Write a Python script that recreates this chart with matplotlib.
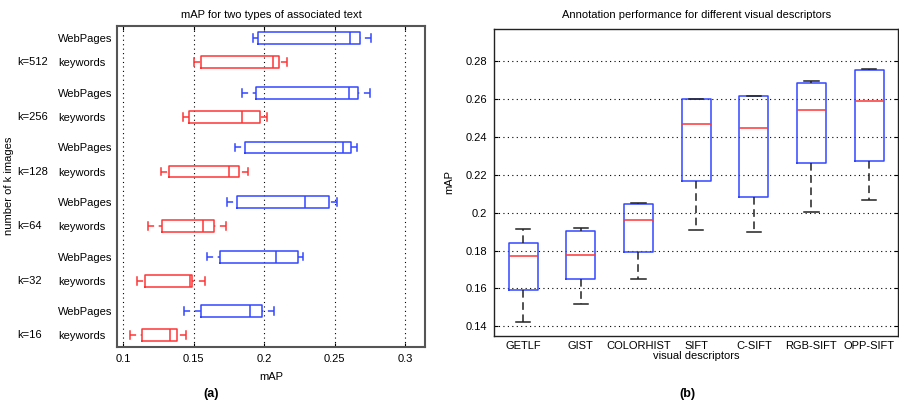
import matplotlib
matplotlib.use('Agg')
import matplotlib.pyplot as plt
from matplotlib.transforms import blended_transform_factory

plt.rcParams['font.family'] = ['Liberation Sans', 'DejaVu Sans']
plt.rcParams['font.size'] = 8

# ---- (a) mAP for two types of associated text, k = 16 ... 512 (bottom to top)
k_labels = ['k=16', 'k=32', 'k=64', 'k=128', 'k=256', 'k=512']

kw_lo = [0.1050, 0.1095, 0.1173, 0.1270, 0.1423, 0.1499]
kw_q1 = [0.1130, 0.1152, 0.1272, 0.1324, 0.1464, 0.1549]
kw_med = [0.1331, 0.1471, 0.1567, 0.1752, 0.1844, 0.2060]
kw_q3 = [0.1383, 0.1489, 0.1643, 0.1823, 0.1970, 0.2106]
kw_hi = [0.1442, 0.1577, 0.1726, 0.1887, 0.2021, 0.2159]

wp_lo = [0.1430, 0.1591, 0.1738, 0.1794, 0.1844, 0.1918]
wp_q1 = [0.1549, 0.1688, 0.1804, 0.1863, 0.1941, 0.1953]
wp_med = [0.1901, 0.2083, 0.2291, 0.2556, 0.2601, 0.2606]
wp_q3 = [0.1984, 0.2241, 0.2457, 0.2615, 0.2667, 0.2681]
wp_hi = [0.2069, 0.2274, 0.2513, 0.2655, 0.2752, 0.2757]

# ---- (b) annotation performance per visual descriptor
descriptors = ['GETLF', 'GIST', 'COLORHIST', 'SIFT', 'C-SIFT', 'RGB-SIFT', 'OPP-SIFT']
d_lo = [0.1424, 0.1518, 0.1648, 0.1910, 0.1899, 0.2003, 0.2068]
d_q1 = [0.1593, 0.1651, 0.1790, 0.2167, 0.2084, 0.2262, 0.2272]
d_med = [0.1771, 0.1776, 0.1963, 0.2466, 0.2450, 0.2545, 0.2591]
d_q3 = [0.1841, 0.1901, 0.2047, 0.2598, 0.2614, 0.2684, 0.2752]
d_hi = [0.1915, 0.1920, 0.2052, 0.2603, 0.2619, 0.2698, 0.2758]

BLUE = '#3346ff'
RED = '#ff3535'


def make_stats(lo, q1, med, q3, hi):
    return [dict(whislo=a, q1=b, med=c, q3=d, whishi=e, fliers=[])
            for a, b, c, d, e in zip(lo, q1, med, q3, hi)]


fig = plt.figure(figsize=(8.99, 4.05), dpi=100)

# ---------------- left chart
ax1 = fig.add_axes([0.1301, 0.1432, 0.3426, 0.7926])
kw_pos = [2 * i + 1 for i in range(6)]
wp_pos = [p + 0.88 for p in kw_pos]

for stats, pos, col in [(make_stats(kw_lo, kw_q1, kw_med, kw_q3, kw_hi), kw_pos, RED),
                        (make_stats(wp_lo, wp_q1, wp_med, wp_q3, wp_hi), wp_pos, BLUE)]:
    res = ax1.bxp(stats, positions=pos, orientation='horizontal', widths=0.43,
                  capwidths=0.28, showfliers=False,
                  boxprops=dict(color=col, linewidth=1.1),
                  medianprops=dict(color=col, linewidth=1.1),
                  whiskerprops=dict(color=col, linewidth=1.1, linestyle=(0, (4, 3))),
                  capprops=dict(color=col, linewidth=1.1))
    # dashes start at the cap end, as in the original
    for w in res['whiskers']:
        w.set_data(w.get_xdata()[::-1], w.get_ydata()[::-1])

ax1.set_xlim(0.0956, 0.3139)
ax1.set_ylim(0.571, 12.33)
ax1.set_xticks([0.1, 0.15, 0.2, 0.25, 0.3])
ax1.set_xticklabels(['0.1', '0.15', '0.2', '0.25', '0.3'])
ax1.xaxis.grid(True, linestyle=(0, (1, 3)), color='black', linewidth=0.8)
ax1.set_axisbelow(True)

ytick_pos = []
ytick_lab = []
for a, b in zip(kw_pos, wp_pos):
    ytick_pos += [a, b]
    ytick_lab += ['keywords', 'WebPages']
ax1.set_yticks(ytick_pos)
ax1.set_yticklabels(ytick_lab)
for t in ax1.get_yticklabels():
    t.set_horizontalalignment('left')
ax1.tick_params(axis='y', length=0, pad=42.5)
ax1.tick_params(axis='x', direction='in', length=3, top=True, pad=5)

trans = blended_transform_factory(fig.transFigure, ax1.transData)
for lab, p in zip(k_labels, kw_pos):
    ax1.text(17 / 899, p, lab, transform=trans, ha='left', va='center')

for s in ax1.spines.values():
    s.set_color('#555555')
    s.set_linewidth(1.5)

ax1.set_title('mAP for two types of associated text', fontsize=8, pad=6)
ax1.set_xlabel('mAP', labelpad=6)
fig.text(9 / 899, 1 - 186 / 405, 'number of k images', rotation=90,
         ha='center', va='center')
fig.text(211 / 899, 1 - 394 / 405, '(a)', fontweight='bold', fontsize=9,
         ha='center', va='center')

# ---------------- right chart
ax2 = fig.add_axes([0.5498, 0.1711, 0.4490, 0.7566])
pos2 = list(range(1, 8))
ax2.bxp(make_stats(d_lo, d_q1, d_med, d_q3, d_hi), positions=pos2, widths=0.5,
        capwidths=0.25, showfliers=False,
        boxprops=dict(color=BLUE, linewidth=1.1),
        medianprops=dict(color=RED, linewidth=1.1),
        whiskerprops=dict(color='#222222', linewidth=1.1, linestyle=(0, (5, 3))),
        capprops=dict(color='#222222', linewidth=1.1))

ax2.set_xlim(0.5, 7.5)
ax2.set_ylim(0.135, 0.2969)
yt = [0.14, 0.16, 0.18, 0.2, 0.22, 0.24, 0.26, 0.28]
ax2.set_yticks(yt)
ax2.set_yticklabels(['0.14', '0.16', '0.18', '0.2', '0.22', '0.24', '0.26', '0.28'])
ax2.set_xticks(pos2)
ax2.set_xticklabels(descriptors)
ax2.yaxis.grid(True, linestyle=(0, (1, 3)), color='black', linewidth=0.8)
ax2.set_axisbelow(True)
ax2.tick_params(axis='x', length=0, pad=4)
ax2.tick_params(axis='y', direction='in', length=3, right=True, pad=5)
for s in ax2.spines.values():
    s.set_color('#222222')
    s.set_linewidth(1.0)

ax2.set_title('Annotation performance for different visual descriptors', fontsize=8, pad=8)
ax2.set_xlabel('visual descriptors', labelpad=0)
ax2.set_ylabel('mAP', labelpad=8)
fig.text(687 / 899, 1 - 394 / 405, '(b)', fontweight='bold', fontsize=9,
         ha='center', va='center')

fig.savefig('out.png', dpi=100)
